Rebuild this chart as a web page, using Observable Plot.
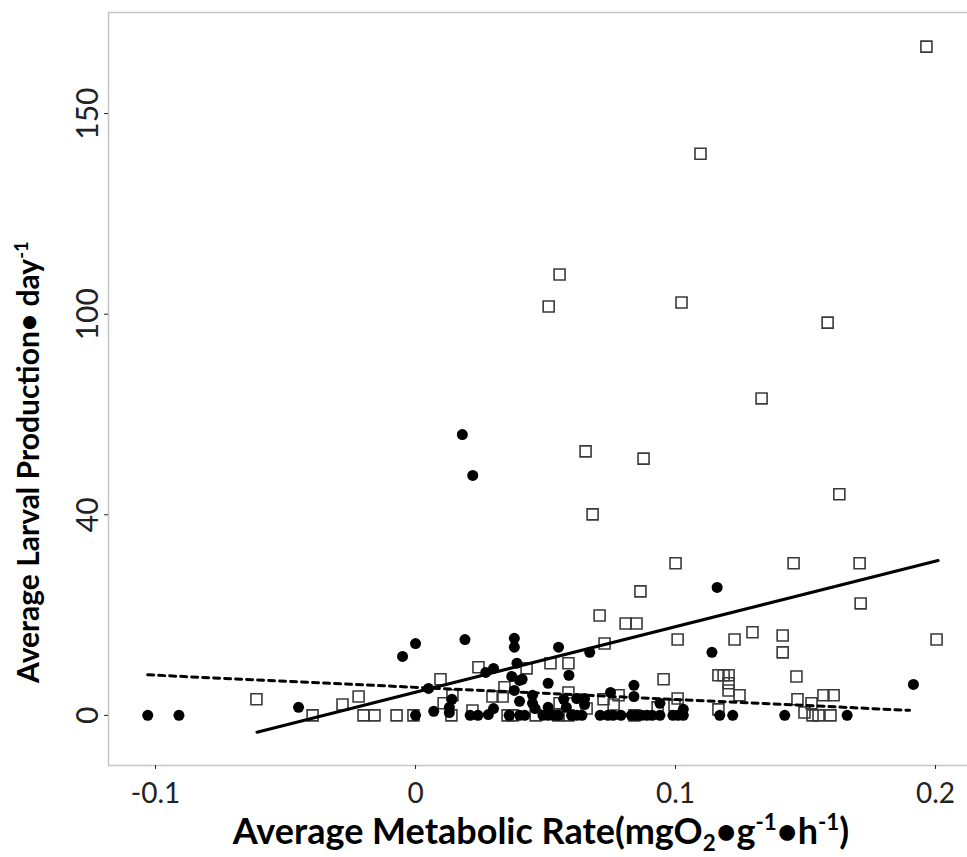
<!DOCTYPE html>
<html>
<head>
<meta charset="utf-8">
<script src="https://cdn.jsdelivr.net/npm/d3@7"></script>
<script src="https://cdn.jsdelivr.net/npm/@observablehq/plot@0.6"></script>
<style>
  html, body { margin: 0; padding: 0; background: #ffffff; }
  #chart { width: 967px; height: 857px; }
</style>
</head>
<body>
<div id="chart"></div>
<script>
// ---- Data ----
// Group shown with filled black circles
const circleX = [-0.103, -0.091, -0.045, -0.005, 0.000, 0.018, 0.022, 0.000, 0.019, 0.038,
  0.038, 0.039, 0.005, 0.027, 0.030, 0.037, 0.038, 0.040, 0.014, 0.013,
  0.013, 0.007, 0.021, 0.024, 0.028, 0.030, 0.036, 0.040, 0.055, 0.067,
  0.059, 0.041, 0.051, 0.045, 0.045, 0.046, 0.051, 0.057, 0.058, 0.062,
  0.065, 0.065, 0.075, 0.084, 0.084, 0.042, 0.049, 0.051, 0.053, 0.055,
  0.060, 0.062, 0.064, 0.071, 0.074, 0.076, 0.079, 0.083, 0.085, 0.087,
  0.089, 0.091, 0.094, 0.099, 0.101, 0.103, 0.117, 0.122, 0.114, 0.094,
  0.103, 0.142, 0.166, 0.1915, 0.116, 0.040];
const circleY = [0, 0, 2.0, 14.7, 17.9, 70.0, 59.8, 0, 18.9, 19.2,
  17.0, 13.0, 6.7, 10.7, 11.7, 9.7, 6.2, 8.7, 4.0, 2.0,
  0.7, 1.0, 0, 0, 0.2, 1.7, 0, 3.5, 17.0, 15.7,
  10.0, 9.0, 8.0, 5.0, 3.0, 1.7, 2.0, 4.0, 2.0, 4.2,
  4.2, 2.7, 5.7, 7.5, 4.7, 0, 0, 0, 0, 0,
  0, 0, 0, 0, 0, 0, 0, 0, 0, 0,
  0, 0, 0, 0, 0, 0, 0, 0, 15.7, 3.0,
  1.5, 0, 0, 7.7, 31.9, 0];

// Group shown with open squares
const squareX = [0.1965, 0.1096, 0.0554, 0.0512, 0.1023, 0.1585, 0.1331, 0.0654, 0.0877, 0.163,
  0.0681, 0.100, 0.1454, 0.1708, 0.1712, 0.0865, 0.0708, 0.0808, 0.085, 0.0727,
  0.1008, 0.1227, 0.1296, 0.1412, 0.1412, 0.2004, -0.0612, -0.0396, -0.0281, -0.0219,
  -0.020, -0.0158, -0.0073, -0.0008, 0.0096, 0.0142, 0.0108, 0.0138, 0.0219, 0.0242,
  0.0296, 0.0335, 0.0342, 0.0354, 0.0427, 0.0519, 0.0588, 0.0588, 0.0554, 0.0658,
  0.0723, 0.0781, 0.0762, 0.0373, 0.0462, 0.055, 0.0588, 0.0842, 0.0954, 0.1165,
  0.1185, 0.1204, 0.1204, 0.1204, 0.1246, 0.1008, 0.0931, 0.0996, 0.1165, 0.1465,
  0.1569, 0.1608, 0.1469, 0.1523, 0.1496, 0.1527, 0.155, 0.1596];
const squareY = [166.7, 140.0, 109.9, 101.9, 102.9, 97.9, 79.0, 65.8, 64.0, 55.1,
  50.1, 37.9, 37.9, 37.9, 27.9, 30.9, 24.9, 22.9, 22.9, 17.9,
  18.9, 18.9, 20.7, 19.9, 15.7, 18.9, 4.0, 0, 2.7, 4.7,
  0, 0, 0, 0, 9.0, 5.0, 3.0, 0, 1.2, 12.0,
  4.7, 4.7, 7.0, 0, 11.7, 13.0, 13.0, 5.7, 3.0, 1.7,
  4.0, 5.0, 2.7, 0, 0, 0, 0, 0, 9.0, 10.0,
  10.0, 10.0, 8.0, 6.2, 5.0, 4.2, 2.0, 2.5, 1.5, 9.7,
  5.0, 5.0, 4.0, 3.0, 0.7, 0, 0, 0];

// Fitted lines (end points)
const solidFitX = [-0.061, 0.201];
const solidFitY = [-4.2, 38.6];
const dashedFitX = [-0.103, 0.190];
const dashedFitY = [10.1, 1.25];

// Axes
const xDomain = [-0.1181, 0.2123];
const yDomain = [-12.5, 175.2];
const xTickValues = [-0.1, 0, 0.1, 0.2];
const xTickLabels = ["-0.1", "0", "0.1", "0.2"];
const yTickValues = [0, 50, 100, 150];
const yTickLabels = ["0", "40", "100", "150"];

// ---- Build tables ----
const circles = circleX.map((x, i) => ({x, y: circleY[i]}));
const squares = squareX.map((x, i) => ({x, y: squareY[i]}));
const solidFit = solidFitX.map((x, i) => ({x, y: solidFitY[i]}));
const dashedFit = dashedFitX.map((x, i) => ({x, y: dashedFitY[i]}));

const FONT = "Lato, 'Open Sans', 'Noto Sans', sans-serif";

const chart = Plot.plot({
  width: 967,
  height: 857,
  marginLeft: 108,
  marginRight: 0,
  marginTop: 12,
  marginBottom: 92,
  style: {fontFamily: FONT, background: "#ffffff", overflow: "visible"},
  x: {domain: xDomain},
  y: {domain: yDomain},
  marks: [
    Plot.ruleX([xDomain[0]], {stroke: "#c4c4c4", strokeWidth: 1.5}),
    Plot.ruleY([yDomain[0], yDomain[1]], {stroke: "#c4c4c4", strokeWidth: 1.5}),
    Plot.axisX({
      ticks: xTickValues,
      tickFormat: d => xTickLabels[xTickValues.findIndex(v => Math.abs(v - d) < 1e-9)],
      tickSize: 4,
      tickPadding: 14,
      fontSize: 28,
      color: "#222",
      label: null
    }),
    Plot.axisY({
      ticks: yTickValues,
      tickFormat: d => yTickLabels[yTickValues.indexOf(d)],
      tickSize: 4,
      tickPadding: 16,
      tickRotate: -90,
      textAnchor: "middle",
      lineAnchor: "middle",
      fontSize: 30,
      color: "#222",
      label: null
    }),
    Plot.dot(squares, {x: "x", y: "y", symbol: "square", r: 6.2, fill: "none", stroke: "#3a3a3a", strokeWidth: 1.6}),
    Plot.dot(circles, {x: "x", y: "y", r: 5.5, fill: "#000", stroke: "none"}),
    Plot.line(dashedFit, {x: "x", y: "y", stroke: "#000", strokeWidth: 3, strokeDasharray: "6,5"}),
    Plot.line(solidFit, {x: "x", y: "y", stroke: "#000", strokeWidth: 3})
  ]
});

document.getElementById("chart").appendChild(chart);

// ---- Axis titles with sub/superscripts ----
const svg = d3.select(chart);
function addRuns(sel, runs, base) {
  runs.forEach(r => {
    const t = sel.append("tspan").text(r.t);
    if (r.dy) t.attr("dy", r.dy);
    if (r.small) t.attr("font-size", base * 0.62);
  });
}

const xFont = 36;
const xTitle = svg.append("text")
  .attr("x", 541).attr("y", 844)
  .attr("text-anchor", "middle")
  .attr("font-family", FONT)
  .attr("font-weight", "bold")
  .attr("font-size", xFont)
  .attr("fill", "#000");
addRuns(xTitle, [
  {t: "Average Metabolic Rate(mgO"},
  {t: "2", small: true, dy: 7},
  {t: "•g", dy: -7},
  {t: "-1", small: true, dy: -14},
  {t: "•h", dy: 14},
  {t: "-1", small: true, dy: -14},
  {t: ")", dy: 14}
], xFont);

const yFont = 30;
const yTitle = svg.append("text")
  .attr("transform", "translate(39,462) rotate(-90)")
  .attr("text-anchor", "middle")
  .attr("font-family", FONT)
  .attr("font-weight", "bold")
  .attr("font-size", yFont)
  .attr("fill", "#000");
addRuns(yTitle, [
  {t: "Average Larval Production• day"},
  {t: "-1", small: true, dy: -11}
], yFont);
</script>
</body>
</html>
